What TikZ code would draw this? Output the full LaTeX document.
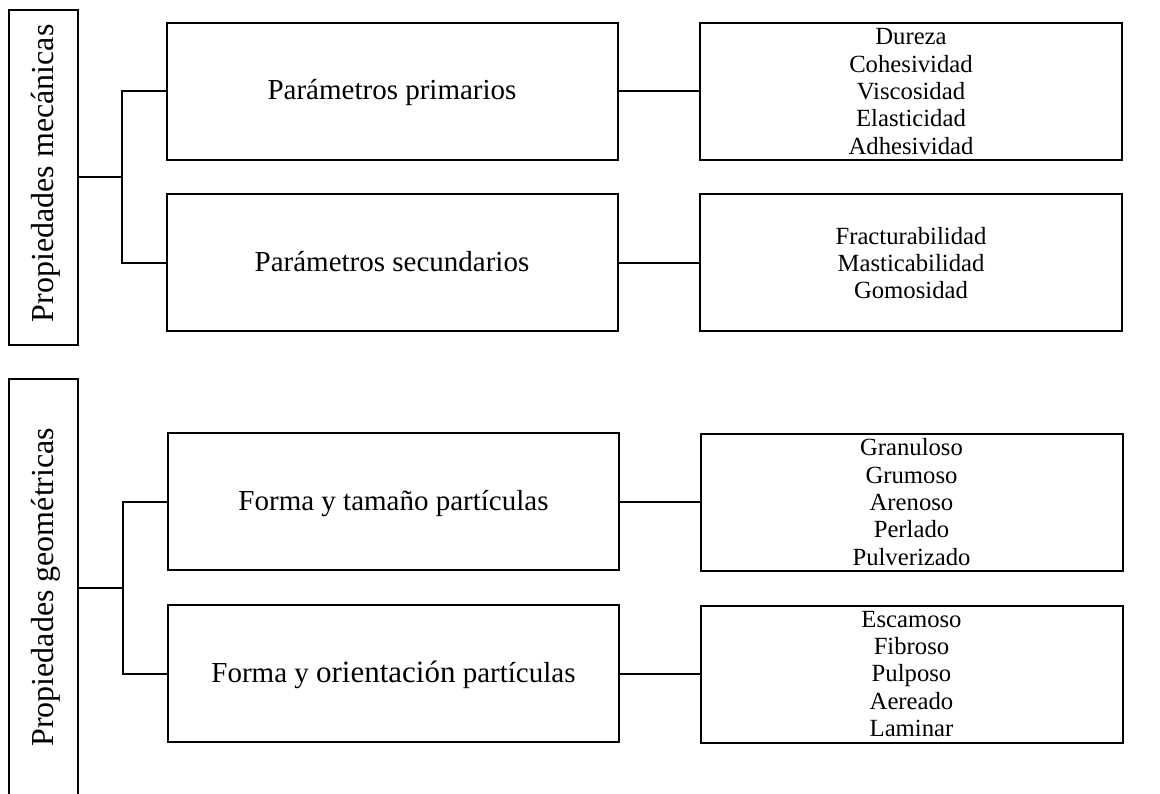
\documentclass[tikz,border=0pt]{standalone}
\usepackage{fontspec}
\setmainfont{Liberation Serif}
\begin{document}
\begin{tikzpicture}[x=1pt,y=-1pt,line width=2pt,
  box/.style={draw,line width=2pt,inner sep=0pt},
  lefttext/.style={rotate=90,anchor=base,inner sep=0pt,font=\fontsize{32}{36}\selectfont},
  midbox/.style={box,minimum width=451pt,minimum height=137pt,text height=17pt,text depth=0pt,font=\fontsize{29}{33}\selectfont},
  rightbox/.style={box,minimum width=422pt,minimum height=137pt,align=center,font=\fontsize{24.7}{27.3}\selectfont}]
\useasboundingbox (0,0) rectangle (1160,794);
% left boxes
\node[box,minimum width=69pt,minimum height=335pt] (L1) at (43.5,177.5) {};
\node[lefttext] (L1t) at (53,173.3) {Propiedades mecánicas};
\node[box,minimum width=69pt,minimum height=420pt] (L2) at (43.5,589) {};
\node[lefttext] (L2t) at (53,587.2) {Propiedades geométricas};
% middle boxes
\node[midbox] (A) at (392,91.5) {Parámetros primarios};
\node[midbox] (B) at (392,263) {Parámetros secundarios};
\node[midbox] (C) at (393.5,501.5) {Forma y tamaño partículas};
\node[midbox] (D) at (393.5,673.5) {Forma y {\fontsize{31}{35}\selectfont orientación} partículas};
% right boxes
\node[rightbox] (RA) at (911,91.5) {Dureza\\Cohesividad\\Viscosidad\\Elasticidad\\Adhesividad};
\node[rightbox] (RB) at (911,263) {Fracturabilidad\\Masticabilidad\\Gomosidad};
\node[rightbox] (RC) at (911.5,502) {Granuloso\\Grumoso\\Arenoso\\Perlado\\Pulverizado};
\node[rightbox] (RD) at (911.5,674) {Escamoso\\Fibroso\\Pulposo\\Aereado\\Laminar};
% connectors
\coordinate (j1) at (122,177.5);
\draw (L1.east) -- (j1);
\draw (A.west) -| (j1);
\draw (B.west) -| (j1);
\coordinate (j2) at (123,587.5);
\draw (j2) -- (j2 -| L2.east);
\draw (C.west) -| (j2);
\draw (D.west) -| (j2);
\draw (A.east) -- (RA.west);
\draw (B.east) -- (RB.west);
\draw (C.east) -- (C.east -| RC.west);
\draw (D.east) -- (D.east -| RD.west);
\end{tikzpicture}
\end{document}
